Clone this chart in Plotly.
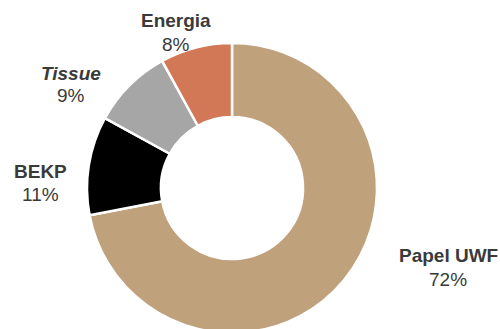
import plotly.graph_objects as go

# Revenue mix by product line
categories = ["Papel UWF", "BEKP", "Tissue", "Energia"]
shares = [72, 11, 9, 8]
colors = ["#BFA17B", "#000000", "#A6A6A6", "#D27857"]

W, H = 500, 376          # canvas is taller than the view so the ring runs off the bottom
CX, R = 232, 145         # ring centre (px from left) and outer radius

fig = go.Figure(
    go.Pie(
        labels=categories,
        values=shares,
        sort=False,
        direction="clockwise",
        rotation=0,
        hole=0.49,
        marker=dict(colors=colors, line=dict(color="white", width=2.5)),
        textinfo="none",
        hoverinfo="label+percent",
        domain=dict(x=[(CX - R) / W, (CX + R) / W], y=[0, 1]),
        showlegend=False,
    )
)

TXT = "#3a3a3a"
FONT = "Liberation Sans, Arial, sans-serif"

# label name / percentage placed beside each slice (pixel positions from top-left)
label_pos = {
    "Energia": (176, 21, 44, "<b>Energia</b>"),
    "Tissue": (71, 74, 96, "<b><i>Tissue</i></b>"),
    "BEKP": (40, 172, 195, "<b>BEKP</b>"),
    "Papel UWF": (448, 255, 279, "<b>Papel UWF</b>"),
}

annotations = []
for name, val in zip(categories, shares):
    x, y1, y2, title = label_pos[name]
    annotations.append(dict(
        x=x / W, y=1 - y1 / H, xref="paper", yref="paper", text=title,
        showarrow=False, xanchor="center", yanchor="middle",
        font=dict(family=FONT, size=19, color=TXT),
    ))
    annotations.append(dict(
        x=x / W, y=1 - y2 / H, xref="paper", yref="paper", text=f"{val}%",
        showarrow=False, xanchor="center", yanchor="middle",
        font=dict(family=FONT, size=19, color=TXT),
    ))

fig.update_layout(
    width=W, height=H,
    margin=dict(l=0, r=0, t=0, b=0),
    paper_bgcolor="white", plot_bgcolor="white",
    annotations=annotations,
)

fig.write_html(
    "out.html",
    post_script="document.documentElement.style.overflow='hidden';"
                "document.body.style.overflow='hidden';document.body.style.margin='0';",
)
